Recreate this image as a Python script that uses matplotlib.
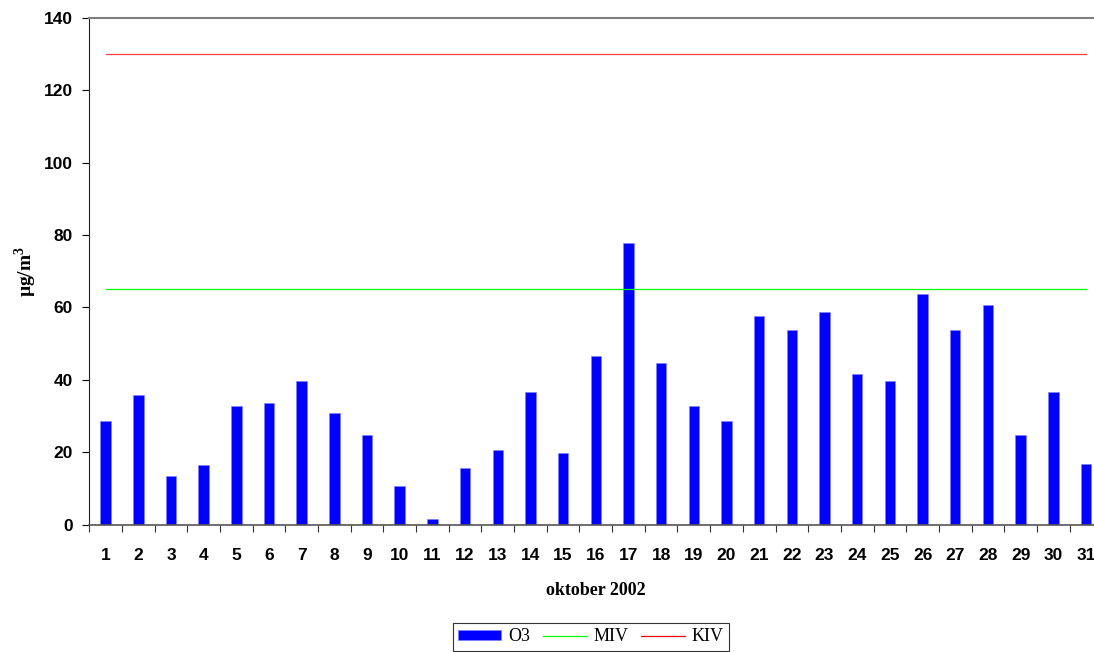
import matplotlib
matplotlib.use("Agg")
from matplotlib import pyplot as plt
from matplotlib.patches import Patch
from matplotlib.lines import Line2D

# daily O3, oktober 2002
days = list(range(1, 32))
o3 = [28.7, 35.7, 13.5, 16.5, 32.7, 33.7, 39.7, 30.7, 24.7, 10.6,
      1.5, 15.7, 20.6, 36.7, 19.7, 46.7, 77.7, 44.7, 32.7, 28.7,
      57.7, 53.7, 58.7, 41.7, 39.7, 63.7, 53.7, 60.7, 24.7, 36.7, 16.7]
miv = [65] * 31
kiv = [130] * 31

SANS = ["Liberation Sans", "DejaVu Sans"]
SERIF = ["Liberation Serif", "DejaVu Serif"]

plt.rcParams["mathtext.fontset"] = "custom"
plt.rcParams["mathtext.rm"] = "Liberation Serif"
plt.rcParams["mathtext.bf"] = "Liberation Serif:bold"

fig = plt.figure(figsize=(10.94, 6.52), dpi=100)
ax = fig.add_axes([0.0816, 0.1955, 0.926, 0.7769])

ax.bar(days, o3, width=0.32, color="#0000FF", edgecolor="#8080FF", linewidth=0.4, zorder=2)
ax.plot(days, miv, color="#00FF00", lw=0.9, zorder=3)
ax.plot(days, kiv, color="#FF0000", lw=0.9, alpha=0.75, zorder=3)

ax.set_xlim(0.5, 31.5)
ax.set_ylim(0, 140)
ax.set_yticks(range(0, 141, 20))
ax.set_xticks(days)
ax.set_xticklabels([str(d) for d in days])
ax.set_xticks([d + 0.5 for d in range(0, 32)], minor=True)
ax.tick_params(axis="x", which="major", length=0, pad=17)
ax.tick_params(axis="x", which="minor", length=5, width=0.8, direction="out", color="#333333")
ax.tick_params(axis="y", length=5, width=0.8, direction="out", pad=7)

for lbl in ax.get_xticklabels() + ax.get_yticklabels():
    lbl.set_family(SANS)
    lbl.set_fontweight("bold")
    lbl.set_fontsize(12.5)

ax.spines["top"].set_color("#808080")
ax.spines["top"].set_linewidth(1.5)
ax.spines["right"].set_color("#808080")
ax.spines["left"].set_color("#222222")
ax.spines["bottom"].set_color("#555555")
ax.spines["bottom"].set_linewidth(1.2)

ax.set_xlabel("oktober 2002", family=SERIF, fontweight="bold", fontsize=13)
ax.xaxis.set_label_coords(0.5, -0.113)
ax.set_ylabel(r"µg/m$^{\mathbf{3}}$", family=SERIF, fontweight="bold", fontsize=14)
ax.yaxis.set_label_coords(-0.050, 0.5)

handles = [Patch(facecolor="#0000FF", edgecolor="#8080FF", linewidth=0.4),
           Line2D([], [], color="#00FF00", lw=0.9),
           Line2D([], [], color="#FF0000", lw=0.9)]
leg = fig.legend(handles, ["O3", "MIV", "KIV"], loc="upper center",
                 bbox_to_anchor=(591 / 1094, 1 - 623 / 652), ncol=3,
                 prop={"family": SERIF, "size": 13}, frameon=True, fancybox=False,
                 handlelength=2.4, handleheight=0.5, handletextpad=0.4,
                 columnspacing=0.7, borderpad=0.3, borderaxespad=0)
leg.get_frame().set_edgecolor("black")
leg.get_frame().set_linewidth(0.8)

fig.savefig("out.png", dpi=100)
